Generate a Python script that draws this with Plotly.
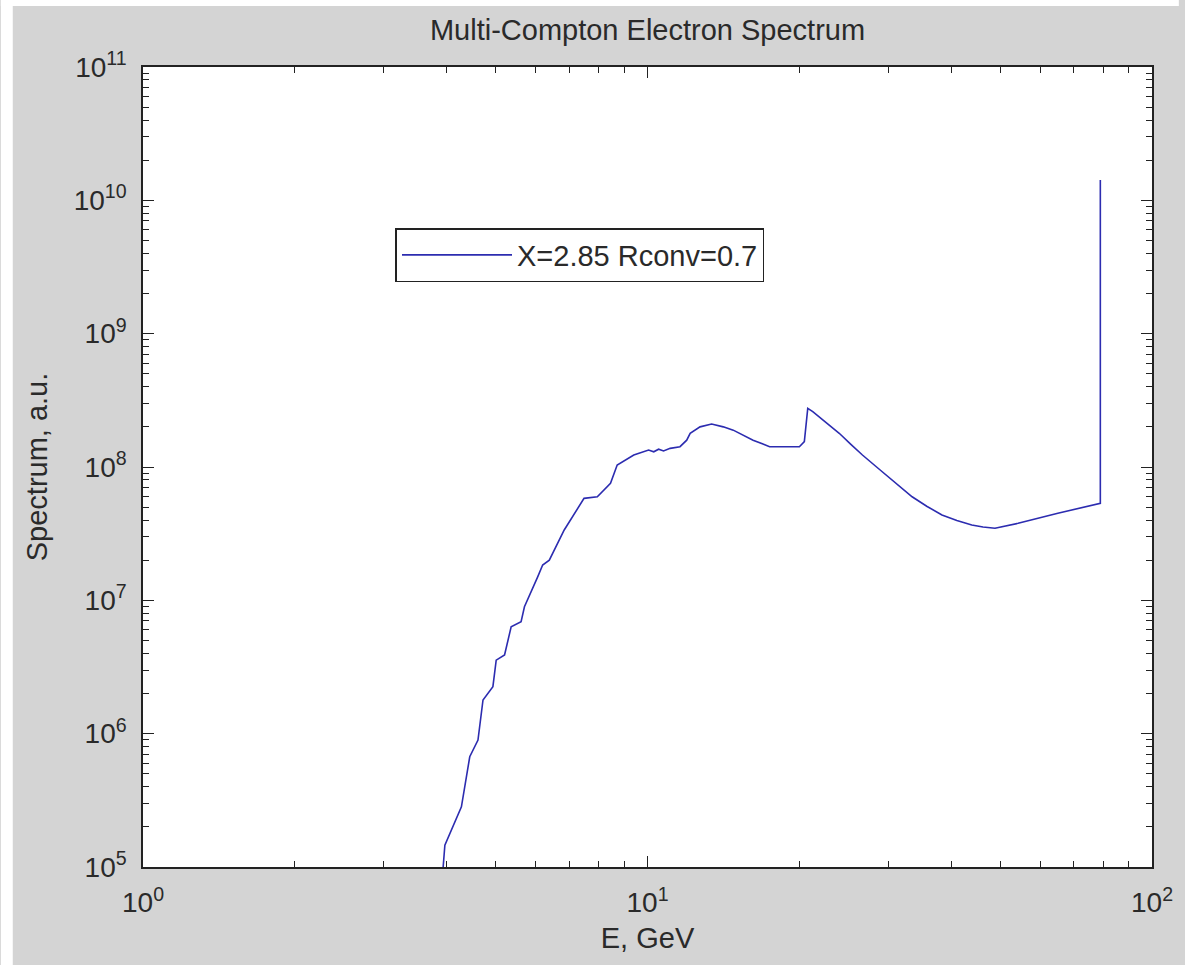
import plotly.graph_objects as go

# Data (energy in GeV, spectrum in a.u.)
energy_gev = [3.935, 3.966, 4.277, 4.443, 4.613, 4.720, 4.938, 5.013, 5.208, 5.367,
              5.616, 5.703, 6.058, 6.197, 6.388, 6.838, 7.485, 7.953, 8.446, 8.708,
              9.393, 9.829, 10.05, 10.29, 10.52, 10.76, 11.09, 11.60, 11.96, 12.15,
              12.71, 13.40, 14.13, 14.79, 16.19, 17.46, 20.00, 20.46, 20.78, 21.26,
              22.55, 23.99, 25.30, 26.67, 28.76, 30.77, 33.46, 35.83, 38.34, 41.04,
              43.93, 46.24, 48.84, 54.28, 65.07, 78.99, 78.99]
spectrum = [1.0e5, 1.46e5, 2.83e5, 6.71e5, 8.95e5, 1.79e6, 2.25e6, 3.56e6, 3.89e6, 6.34e6,
            6.92e6, 8.95e6, 1.50e7, 1.84e7, 2.00e7, 3.37e7, 5.82e7, 5.98e7, 7.55e7, 1.035e8,
            1.23e8, 1.30e8, 1.34e8, 1.30e8, 1.36e8, 1.32e8, 1.38e8, 1.42e8, 1.59e8, 1.79e8,
            2.00e8, 2.10e8, 2.00e8, 1.89e8, 1.59e8, 1.42e8, 1.42e8, 1.55e8, 2.75e8, 2.60e8,
            2.18e8, 1.79e8, 1.48e8, 1.23e8, 9.66e7, 7.76e7, 5.98e7, 5.06e7, 4.37e7, 3.97e7,
            3.67e7, 3.55e7, 3.47e7, 3.78e7, 4.50e7, 5.34e7, 1.42e10]

series_name = "X=2.85 Rconv=0.7"
title_text = "Multi-Compton Electron Spectrum"
x_title = "E, GeV"
y_title = "Spectrum, a.u."

x_tickvals = [1, 10, 100]
x_ticktext = ["10<sup>0</sup>", "10<sup>1</sup>", "10<sup>2</sup>"]
y_tickvals = [1e5, 1e6, 1e7, 1e8, 1e9, 1e10, 1e11]
y_ticktext = ["10<sup>5</sup>", "10<sup>6</sup>", "10<sup>7</sup>", "10<sup>8</sup>",
              "10<sup>9</sup>", "10<sup>10</sup>", "10<sup>11</sup>"]

x_minor = [m * 10 ** d for d in range(0, 2) for m in range(2, 10)]
y_minor = [m * 10 ** d for d in range(5, 11) for m in range(2, 10)]

FONT = "Liberation Sans"
TXT = "#2a2a2a"
GRAY = "#d4d4d4"

fig = go.Figure()
fig.add_trace(go.Scatter(
    x=energy_gev, y=spectrum, mode="lines", name=series_name,
    line=dict(color="#2c2cb0", width=1.6),
))

axis_common = dict(
    type="log", showgrid=False, zeroline=False,
    showline=True, linecolor="#222222", linewidth=1.5, mirror="allticks",
    ticks="inside", ticklen=11, tickwidth=1.2, tickcolor="#222222",
    tickfont=dict(family=FONT, size=28, color=TXT),
)

fig.update_xaxes(
    **axis_common, range=[0, 2], tickmode="array", tickvals=x_tickvals, ticktext=x_ticktext,
    ticklabelstandoff=10,
    minor=dict(tickmode="array", tickvals=x_minor, ticks="inside", ticklen=6,
               tickwidth=1.2, tickcolor="#222222"),
    title=dict(text=x_title, font=dict(family=FONT, size=29, color=TXT), standoff=10),
)
fig.update_yaxes(
    **axis_common, range=[5, 11], tickmode="array", tickvals=y_tickvals, ticktext=y_ticktext,
    ticklabelstandoff=9,
    minor=dict(tickmode="array", tickvals=y_minor, ticks="inside", ticklen=6,
               tickwidth=1.2, tickcolor="#222222"),
    title=dict(text=y_title, font=dict(family=FONT, size=29, color=TXT), standoff=18),
)

fig.update_layout(
    width=1185, height=965, autosize=False,
    margin=dict(l=143, r=27, t=67, b=98),
    paper_bgcolor=GRAY, plot_bgcolor="white",
    title=dict(text=title_text, x=0.5, xref="paper", xanchor="center",
               y=1 - 30 / 965, yref="container", yanchor="middle",
               font=dict(family=FONT, size=29, color=TXT)),
    showlegend=True,
    legend=dict(x=(397 - 143) / 1015, y=1 - (228 - 67) / 800, xanchor="left", yanchor="top",
                bgcolor="white", bordercolor="#222222", borderwidth=1.5,
                font=dict(family=FONT, size=29, color=TXT), itemwidth=110),
    shapes=[
        dict(type="rect", xref="paper", yref="paper",
             x0=-143 / 1015, x1=-131 / 1015, y0=-98 / 800, y1=1 + 67 / 800,
             fillcolor="white", line=dict(width=0), layer="below"),
        dict(type="rect", xref="paper", yref="paper",
             x0=-143 / 1015, x1=1 + 27 / 1015, y0=1 + 61 / 800, y1=1 + 67 / 800,
             fillcolor="white", line=dict(width=0), layer="below"),
    ],
)

fig.write_html("out.html")
